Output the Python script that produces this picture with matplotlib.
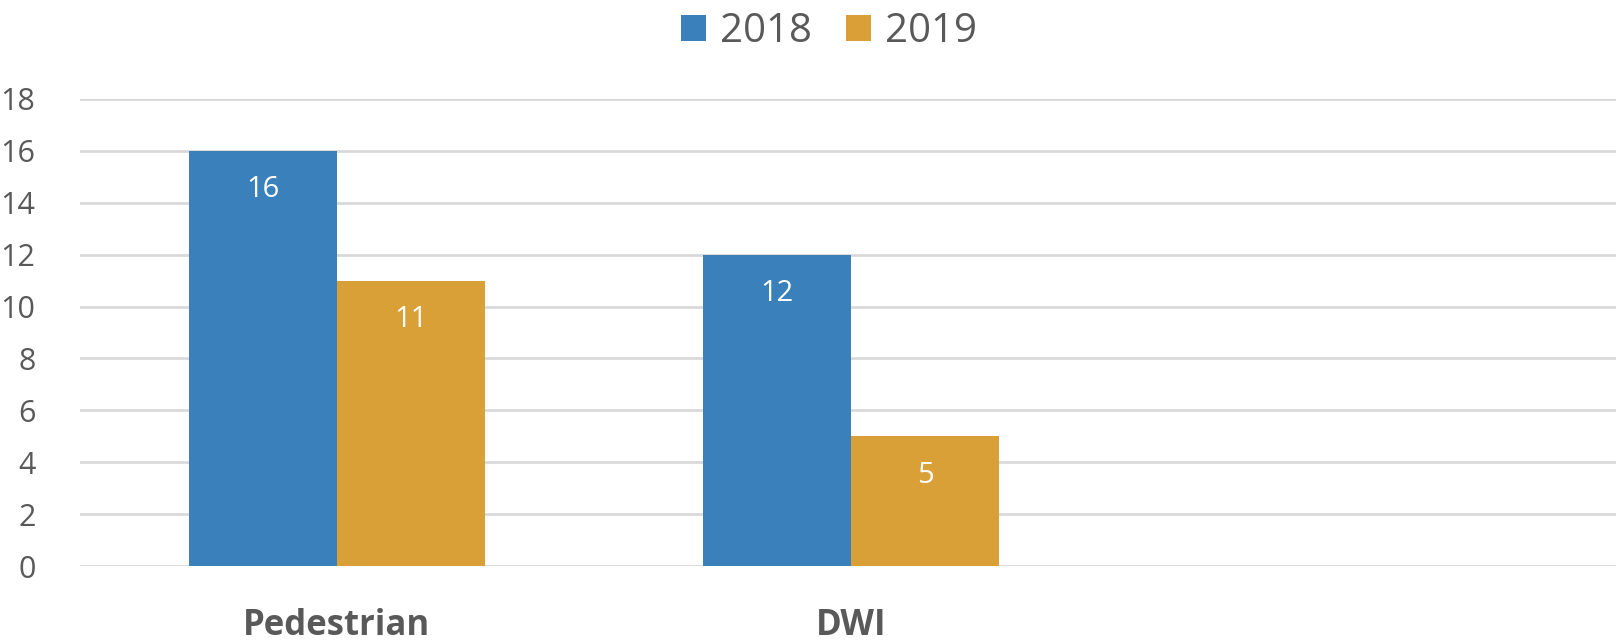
import matplotlib
matplotlib.use("Agg")
import matplotlib.pyplot as plt
import numpy as np
from matplotlib.patches import Patch

categories = ["Pedestrian", "DWI", ""]
series_names = ["2018", "2019"]
values_2018 = [16, 12, np.nan]
values_2019 = [11, 5, np.nan]
yticks = [0, 2, 4, 6, 8, 10, 12, 14, 16, 18]

colors = ["#3A80BA", "#D9A038"]
text_color = "#595959"
grid_color = "#D9D9D9"

plt.rcParams['font.family'] = ['Open Sans', 'DejaVu Sans']

fig = plt.figure(figsize=(16.16, 6.41), dpi=100)
left_px, top_px, bottom_px = 80, 99, 566
width_px = 3 * 514
ax = fig.add_axes([left_px/1616, 1 - bottom_px/641, width_px/1616, (bottom_px - top_px)/641])

x = np.arange(len(categories))
w = 0.288
for i, (vals, col) in enumerate(zip([values_2018, values_2019], colors)):
    offs = (i - 0.5) * w
    ax.bar(x + offs, vals, width=w, color=col, zorder=3, linewidth=0)
    for xi, v in zip(x, vals):
        if not np.isnan(v):
            ax.text(xi + offs, v - 1.5, f"{v:g}", ha="center", va="center",
                    color="white", fontsize=21, zorder=4)

ax.set_xlim(-0.5, len(categories) - 0.5)
ax.set_ylim(0, 18)
ax.set_yticks(yticks)
ax.set_yticklabels([str(t) for t in yticks], fontsize=22, color=text_color)
ax.set_xticks(x)
ax.set_xticklabels(categories, fontsize=25, fontweight="bold", color=text_color)
ax.tick_params(axis="y", length=0, pad=32)
ax.tick_params(axis="x", length=0, pad=30)
ax.grid(axis="y", color=grid_color, linewidth=2, zorder=0)
for s in ax.spines.values():
    s.set_visible(False)

handles = [Patch(facecolor=c, edgecolor="none") for c in colors]
fig.legend(handles, series_names, loc="center", bbox_to_anchor=(829/1616, 1 - 32/641),
           ncol=2, frameon=False, fontsize=29, labelcolor=text_color,
           handlelength=0.62, handleheight=0.62, handletextpad=0.35, columnspacing=0.85,
           borderpad=0)

fig.savefig("out.png", dpi=100, facecolor="white")
